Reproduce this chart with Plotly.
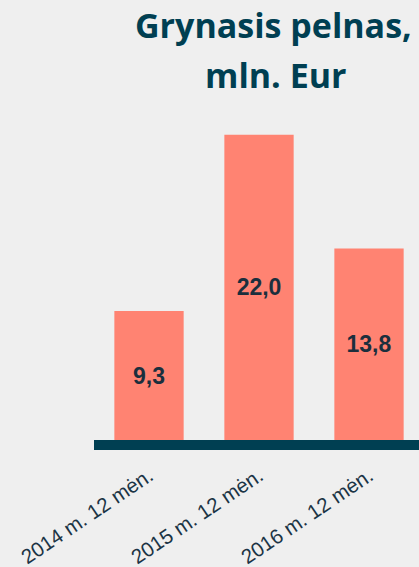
import plotly.graph_objects as go

categories = ["2014 m. 12 mėn.", "2015 m. 12 mėn.", "2016 m. 12 mėn."]
values = [9.3, 22.0, 13.8]
title_lines = ["Grynasis pelnas,", "mln. Eur"]

L, T, B, W, H = 94, 121, 127, 419, 567
PW, PH = W - L, H - T - B

def px_x(px):
    return (px - L) / PW

def px_y(py):
    return (H - B - py) / PH

fig = go.Figure()
fig.add_trace(go.Bar(
    x=categories, y=values,
    marker=dict(color="#ff8372", line=dict(width=0)),
    texttemplate="%{y:.1f}",
    textposition="inside",
    insidetextanchor="middle",
    textfont=dict(family="Arial, Liberation Sans", size=23, color="#1b2f3d", weight="bold"),
    cliponaxis=False,
))

fig.update_layout(
    width=W, height=H,
    paper_bgcolor="#efefef", plot_bgcolor="#efefef",
    margin=dict(l=L, r=0, t=T, b=B, autoexpand=False),
    separators=", ",
    bargap=0.37,
    showlegend=False,
    xaxis=dict(
        type="category", range=[-0.5, 2.4545],
        automargin=False,
        showline=True, linecolor="#003f52", linewidth=10,
        showgrid=False, ticks="", tickangle=-34,
        ticklabelstandoff=6,
        tickfont=dict(family="Arial, Liberation Sans", size=20.5, color="#1b3445"),
    ),
    yaxis=dict(range=[0, 23], visible=False, automargin=False),
    annotations=[
        dict(text=title_lines[0], xref="paper", yref="paper",
             x=px_x(273), y=px_y(25), xanchor="center", yanchor="middle",
             showarrow=False,
             font=dict(family="Open Sans", size=34, color="#003f52", weight="bold")),
        dict(text=title_lines[1], xref="paper", yref="paper",
             x=px_x(275.5), y=px_y(75), xanchor="center", yanchor="middle",
             showarrow=False,
             font=dict(family="Open Sans", size=34, color="#003f52", weight="bold")),
    ],
)

fig.write_html("out.html", config={"displayModeBar": False},
               post_script="document.body.style.margin='0';document.body.style.background='#efefef';")
